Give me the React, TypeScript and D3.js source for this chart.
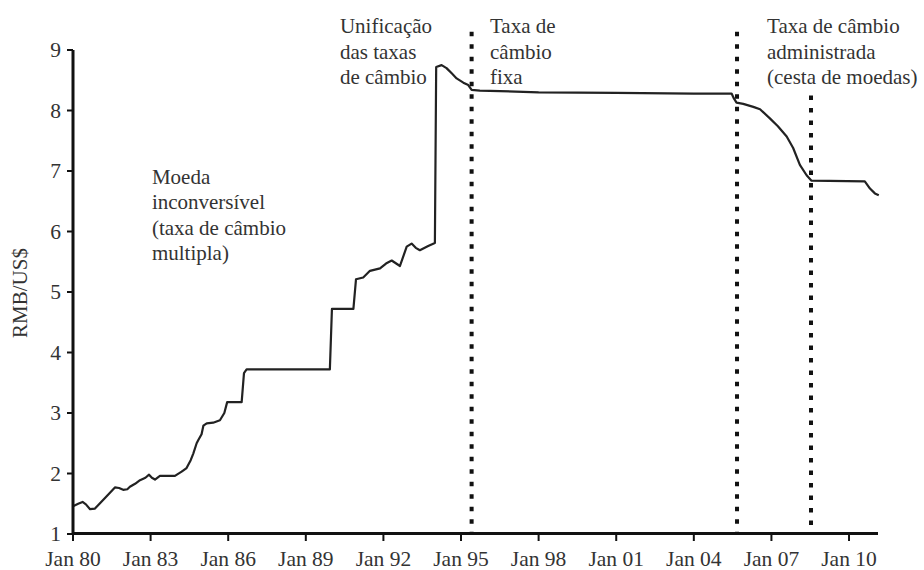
import React from "react";
import * as d3 from "d3";

const years: number[] = [
  1980.0, 1980.2, 1980.37, 1980.5, 1980.66, 1980.85, 1981.2, 1981.62, 1981.78, 1981.94,
  1982.1, 1982.2, 1982.4, 1982.59, 1982.8, 1982.94, 1983.05, 1983.17, 1983.36, 1983.94,
  1984.2, 1984.39, 1984.55, 1984.65, 1984.78, 1984.84, 1984.97, 1985.04, 1985.17, 1985.42,
  1985.68, 1985.85, 1985.96, 1986.52, 1986.61, 1986.71, 1989.93, 1990.01, 1990.84, 1990.94,
  1991.22, 1991.48, 1991.87, 1992.1, 1992.32, 1992.64, 1992.9, 1993.09, 1993.25, 1993.41,
  1993.73, 1993.99, 1994.04, 1994.25, 1994.44, 1994.65, 1994.83, 1995.09, 1995.28, 1995.41,
  1995.73, 1998.0, 2001.0, 2004.0, 2005.46, 2005.55, 2005.65, 2005.91, 2006.3, 2006.56,
  2006.94, 2007.25, 2007.59, 2007.84, 2008.1, 2008.36, 2008.55, 2010.61, 2010.81, 2011.0,
  2011.15,
];
const rates: number[] = [
  1.46, 1.5, 1.53, 1.49, 1.41, 1.42, 1.58, 1.77, 1.76, 1.73,
  1.74, 1.78, 1.83, 1.89, 1.93, 1.98, 1.93, 1.9, 1.96, 1.96,
  2.03, 2.09, 2.22, 2.33, 2.5, 2.55, 2.65, 2.79, 2.83, 2.84,
  2.88, 3.0, 3.18, 3.18, 3.66, 3.72, 3.72, 4.72, 4.72, 5.21,
  5.24, 5.35, 5.39, 5.47, 5.52, 5.43, 5.75, 5.8, 5.73, 5.69,
  5.76, 5.81, 8.72, 8.75, 8.7, 8.61, 8.53, 8.46, 8.42, 8.34,
  8.33, 8.3, 8.29, 8.28, 8.28, 8.2, 8.13, 8.11, 8.06, 8.02,
  7.87, 7.74, 7.57, 7.38, 7.1, 6.93, 6.84, 6.83, 6.71, 6.63,
  6.6,
];

const xTickYears: number[] = [1980, 1983, 1986, 1989, 1992, 1995, 1998, 2001, 2004, 2007, 2010];
const xTickLabels: string[] = ["Jan 80", "Jan 83", "Jan 86", "Jan 89", "Jan 92", "Jan 95", "Jan 98", "Jan 01", "Jan 04", "Jan 07", "Jan 10"];
const yTicks: number[] = [1, 2, 3, 4, 5, 6, 7, 8, 9];

const regimeBreaks: number[] = [1995.41, 2005.67, 2008.53];
const regimeBreakTops: number[] = [9.3, 9.3, 8.25];

const annotations: { year: number; value: number; lines: string[] }[] = [
  { year: 1983.05, value: 6.79, lines: ["Moeda", "inconversível", "(taxa de câmbio", "multipla)"] },
  { year: 1990.32, value: 9.28, lines: ["Unificação", "das taxas", "de câmbio"] },
  { year: 1996.12, value: 9.28, lines: ["Taxa de", "câmbio", "fixa"] },
  { year: 2006.83, value: 9.28, lines: ["Taxa de câmbio", "administrada", "(cesta de moedas)"] },
];

const yLabel = "RMB/US$";

export default function App() {
  const W = 924;
  const H = 570;
  const x = d3.scaleLinear().domain([1980, 2011.12]).range([73, 878]);
  const y = d3.scaleLinear().domain([1, 9]).range([534, 50]);
  const font = '"Liberation Serif", "Times New Roman", Times, serif';
  const textColor = "#333";
  const ts = { fontFamily: font } as React.CSSProperties;

  const data = years.map((yr, i) => [yr, rates[i]] as [number, number]);
  const line = d3
    .line<[number, number]>()
    .x((d) => x(d[0]))
    .y((d) => y(d[1]))
    .curve(d3.curveLinear);

  const lineH = 25.5;

  return (
    <svg
      width={W}
      height={H}
      style={{ position: "absolute", left: 0, top: 0, background: "#fff", fontFamily: font }}
    >
      <rect x={0} y={0} width={W} height={H} fill="#fff" />

      {regimeBreaks.map((b, i) => (
        <line
          key={"b" + i}
          x1={x(b)}
          x2={x(b)}
          y1={y(regimeBreakTops[i])}
          y2={533}
          stroke="#111"
          strokeWidth={4}
          strokeDasharray="4.5 8"
        />
      ))}

      <path d={line(data) || ""} fill="none" stroke="#222" strokeWidth={2.2} strokeLinejoin="round" />

      <line x1={73} x2={73} y1={y(9)} y2={535} stroke="#111" strokeWidth={3} />
      {yTicks.map((t) => (
        <g key={"y" + t}>
          <line x1={67} x2={73} y1={y(t)} y2={y(t)} stroke="#111" strokeWidth={2} />
          <text x={61} y={y(t)} dy="0.33em" textAnchor="end" fontSize={21.5} fill={textColor} style={ts}>
            {t}
          </text>
        </g>
      ))}

      <line x1={72} x2={878} y1={533.5} y2={533.5} stroke="#111" strokeWidth={3} />
      {xTickYears.map((t, i) => (
        <g key={"x" + t}>
          <line x1={x(t)} x2={x(t)} y1={533} y2={541} stroke="#111" strokeWidth={2} />
          <text x={x(t)} y={566} textAnchor="middle" fontSize={21.5} fill={textColor} style={ts}>
            {xTickLabels[i]}
          </text>
        </g>
      ))}

      <text transform={`translate(27, 293) rotate(-90)`} textAnchor="middle" fontSize={21} fill={textColor} style={ts}>
        {yLabel}
      </text>

      {annotations.map((a, i) => (
        <text key={"a" + i} x={x(a.year)} y={y(a.value)} fontSize={21} fill={textColor} style={ts}>
          {a.lines.map((l, j) => (
            <tspan key={j} x={x(a.year)} y={y(a.value) + j * lineH}>
              {l}
            </tspan>
          ))}
        </text>
      ))}
    </svg>
  );
}
